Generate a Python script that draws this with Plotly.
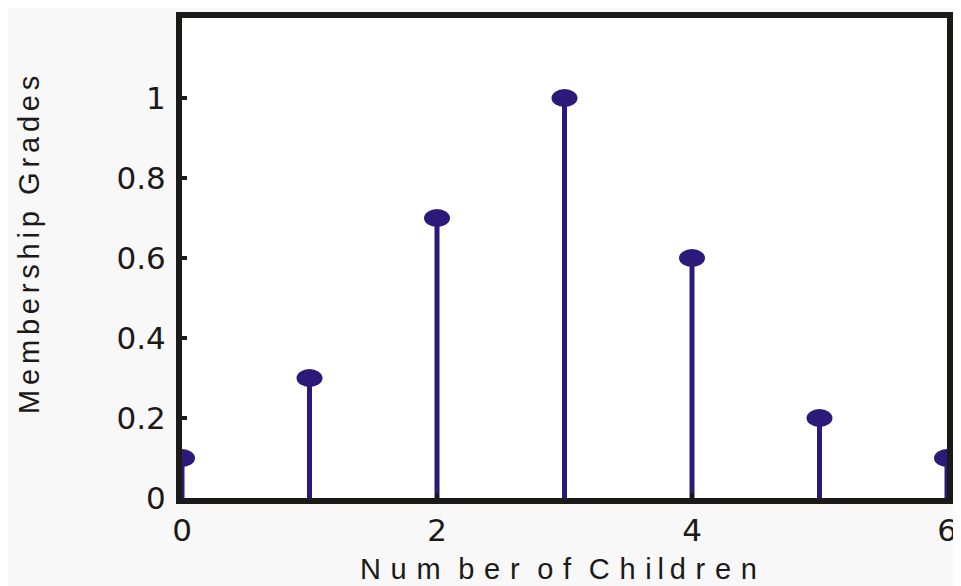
import plotly.graph_objects as go

children = [0, 1, 2, 3, 4, 5, 6]
grades = [0.1, 0.3, 0.7, 1.0, 0.6, 0.2, 0.1]
x_ticks = [0, 2, 4, 6]
y_ticks = [0, 0.2, 0.4, 0.6, 0.8, 1]
y_tick_text = ["0", "0.2", "0.4", "0.6", "0.8", "1"]
THIN = "\u2009"
SIX = "\u2006"
THREE = "\u2004"
WORD = THREE + " "
x_title = (THREE.join("Num") + WORD + THREE.join("ber") + WORD + THREE.join("of") + WORD +
           THREE.join("Ch") + THREE + THIN.join("ild") + THREE + THREE.join("ren"))
y_title = SIX.join("Membership") + "  " + SIX.join("Grades")

stem_color = "#2b1a7a"
axis_color = "#1c1a19"
title_font = "Liberation Sans, Arial, sans-serif"
tick_font = "DejaVu Sans, Arial, sans-serif"

sx, sy = [], []
for xv, yv in zip(children, grades):
    sx += [xv, xv, None]
    sy += [0, yv, None]

fig = go.Figure()
fig.add_trace(go.Scatter(x=sx, y=sy, mode="lines",
                         line=dict(color=stem_color, width=5),
                         hoverinfo="skip", showlegend=False, cliponaxis=False))

shapes = []
for xv, yv in zip(children, grades):
    shapes.append(dict(type="circle", xref="x", yref="y",
                       xsizemode="pixel", ysizemode="pixel",
                       xanchor=xv, yanchor=yv,
                       x0=-13, x1=13, y0=-9, y1=9,
                       fillcolor=stem_color, line=dict(width=0),
                       layer="above"))

fig.update_layout(
    width=953, height=578,
    margin=dict(l=174, r=9, t=4, b=88),
    paper_bgcolor="#f8f8f8",
    plot_bgcolor="#ffffff",
    shapes=shapes,
    showlegend=False,
    font=dict(family=tick_font, color=axis_color),
    annotations=[
        dict(text=x_title, xref="paper", yref="paper", x=0.492, y=-0.148,
             xanchor="center", yanchor="middle", showarrow=False,
             font=dict(size=29, family=title_font, color=axis_color)),
        dict(text=y_title, xref="paper", yref="paper", x=-0.2, y=0.527,
             xanchor="center", yanchor="middle", showarrow=False, textangle=-90,
             font=dict(size=29, family=title_font, color=axis_color)),
    ],
)
fig.update_xaxes(range=[0, 6], tickvals=x_ticks, ticktext=[str(v) for v in x_ticks],
                 showgrid=False, zeroline=False, showline=True, mirror=True,
                 linecolor=axis_color, linewidth=6, ticks="inside", ticklen=5,
                 tickwidth=4, tickcolor=axis_color, tickfont=dict(size=31))
fig.update_yaxes(range=[0, 1.2], tickvals=y_ticks, ticktext=y_tick_text,
                 showgrid=False, zeroline=False, showline=True, mirror=True,
                 linecolor=axis_color, linewidth=6, ticks="inside", ticklen=5,
                 tickwidth=4, tickcolor=axis_color, tickfont=dict(size=31),
                 ticklabelstandoff=4)

fig.write_html("out.html")
